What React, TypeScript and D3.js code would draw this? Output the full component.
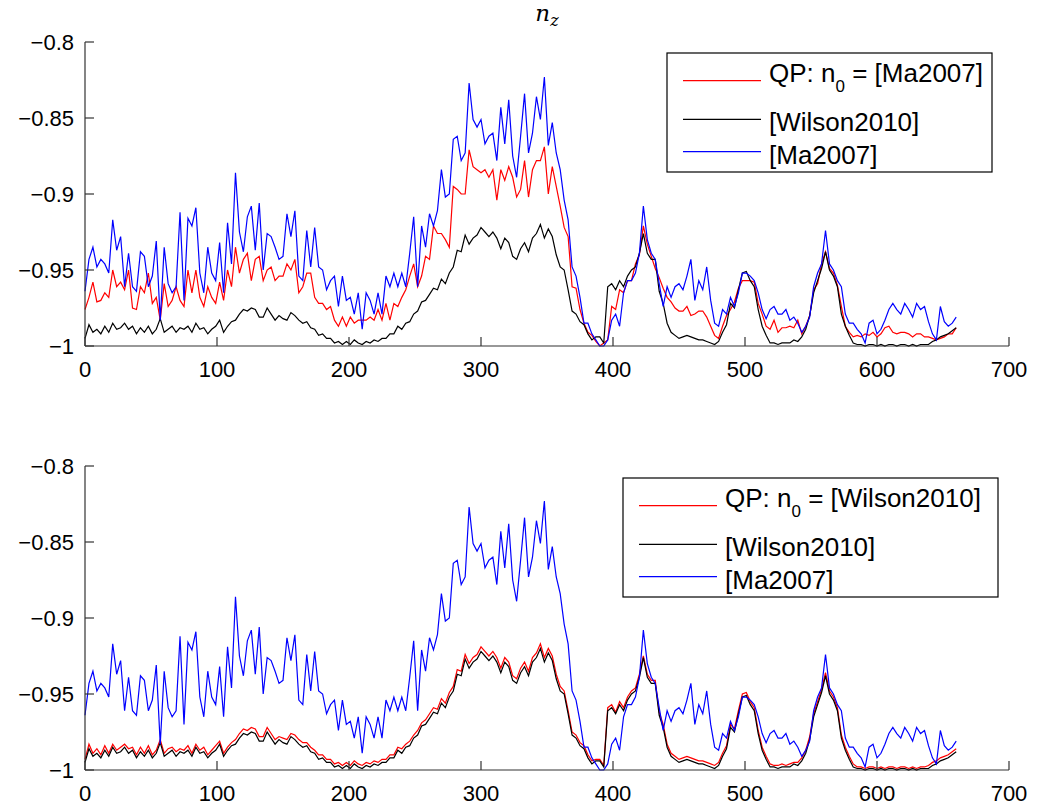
import React from 'react';
import * as d3 from 'd3';

// sample positions (frame index) at which the curves were read
const SAMPLE_X: number[] = d3.range(0, 661, 3);
const X_TICKS = [0, 100, 200, 300, 400, 500, 600, 700];
const Y_TICKS = [-1, -0.95, -0.9, -0.85, -0.8];

// [Ma2007]
const MA2007 = [
  -0.964, -0.943, -0.935, -0.948, -0.943, -0.946, -0.952, -0.917, -0.937, -0.928,
  -0.961, -0.939, -0.961, -0.964, -0.938, -0.941, -0.961, -0.954, -0.931, -0.983,
  -0.935, -0.959, -0.965, -0.961, -0.912, -0.970, -0.916, -0.921, -0.909, -0.952,
  -0.965, -0.935, -0.952, -0.957, -0.932, -0.965, -0.919, -0.946, -0.886, -0.925,
  -0.938, -0.915, -0.908, -0.937, -0.906,
  -0.950, -0.926, -0.928, -0.935, -0.943, -0.941, -0.913, -0.928, -0.911, -0.954,
  -0.957, -0.924, -0.948, -0.922, -0.948, -0.950, -0.963, -0.957, -0.954, -0.974,
  -0.954, -0.970, -0.968, -0.979, -0.965, -0.989, -0.965, -0.970, -0.979, -0.965,
  -0.979, -0.954, -0.961, -0.952, -0.961, -0.952, -0.961, -0.939, -0.915, -0.961,
  -0.921, -0.935,
  -0.913, -0.921, -0.911, -0.884, -0.902, -0.900, -0.864, -0.862, -0.878, -0.873,
  -0.827, -0.851, -0.856, -0.851, -0.867, -0.862, -0.860, -0.878, -0.843, -0.867,
  -0.838, -0.875, -0.889, -0.862, -0.834, -0.873, -0.860, -0.836, -0.851, -0.823,
  -0.868, -0.853, -0.873, -0.884, -0.904, -0.917, -0.948, -0.954, -0.968, -0.985,
  -0.985, -0.992, -0.996, -1.0,
  -1.0, -0.996, -0.983, -0.979, -0.987, -0.965, -0.957, -0.957, -0.952, -0.939,
  -0.908, -0.930, -0.939, -0.943, -0.959, -0.974, -0.961, -0.968, -0.961, -0.959,
  -0.963, -0.954, -0.943, -0.970, -0.957, -0.963, -0.948, -0.970, -0.985, -0.987,
  -0.976, -0.979, -0.968, -0.974, -0.965, -0.952, -0.952, -0.954, -0.957, -0.965,
  -0.976, -0.982,
  -0.976, -0.974, -0.979, -0.979, -0.976, -0.983, -0.981, -0.985, -0.991, -0.987,
  -0.981, -0.961, -0.952, -0.946, -0.924, -0.946, -0.950, -0.957, -0.961, -0.979,
  -0.985, -0.985, -0.989, -0.992, -0.998, -0.985, -0.983, -0.992, -0.989, -0.983,
  -0.976, -0.972, -0.976, -0.979, -0.972, -0.976, -0.981, -0.972, -0.976, -0.974,
  -0.984, -0.992, -0.996, -0.974, -0.984, -0.987, -0.985, -0.981,
];

// [Wilson2010]
const WILSON2010 = [
  -0.995, -0.986, -0.991, -0.989, -0.992, -0.987, -0.991, -0.985, -0.989, -0.988,
  -0.985, -0.989, -0.987, -0.992, -0.988, -0.991, -0.987, -0.992, -0.989, -0.982,
  -0.991, -0.989, -0.987, -0.991, -0.988, -0.989, -0.987, -0.991, -0.985, -0.989,
  -0.988, -0.992, -0.989, -0.987, -0.983, -0.991, -0.987, -0.984, -0.983, -0.979,
  -0.976, -0.977, -0.975, -0.976, -0.981,
  -0.981, -0.975, -0.979, -0.983, -0.980, -0.982, -0.983, -0.978, -0.980, -0.983,
  -0.985, -0.984, -0.988, -0.989, -0.993, -0.992, -0.995, -0.995, -0.998, -0.997,
  -0.999, -0.997, -0.999, -0.996, -0.998, -0.999, -0.997, -0.998, -0.996, -0.997,
  -0.995, -0.995, -0.992, -0.992, -0.987, -0.989, -0.985, -0.984, -0.979, -0.977,
  -0.971, -0.970,
  -0.966, -0.962, -0.963, -0.956, -0.959, -0.952, -0.948, -0.937, -0.938, -0.927,
  -0.933, -0.929, -0.927, -0.922, -0.925, -0.928, -0.925, -0.929, -0.936, -0.929,
  -0.932, -0.941, -0.943, -0.936, -0.932, -0.938, -0.929, -0.926, -0.920, -0.929,
  -0.923, -0.928, -0.940, -0.948, -0.950, -0.963, -0.977, -0.979, -0.984, -0.986,
  -0.992, -0.996, -0.994, -0.994,
  -0.998, -0.961, -0.959, -0.963, -0.957, -0.961, -0.954, -0.950, -0.948, -0.939,
  -0.926, -0.939, -0.943, -0.943, -0.964, -0.972, -0.985, -0.991, -0.993, -0.995,
  -0.994, -0.993, -0.994, -0.995, -0.996, -0.996, -0.997, -0.998, -0.999, -0.997,
  -0.991, -0.986, -0.972, -0.975, -0.963, -0.952, -0.951, -0.957, -0.961, -0.976,
  -0.987, -0.993,
  -0.998, -0.998, -0.999, -0.998, -0.998, -0.998, -0.996, -0.997, -0.994, -0.989,
  -0.980, -0.965, -0.957, -0.949, -0.938, -0.950, -0.954, -0.961, -0.979, -0.987,
  -0.993, -0.998, -0.999, -0.999, -1.0, -0.999, -0.999, -1.0, -0.999, -1.0,
  -0.999, -0.999, -1.0, -0.999, -0.999, -1.0, -0.999, -1.0, -0.999, -0.999,
  -0.999, -0.997, -0.996, -0.994, -0.993, -0.992, -0.990, -0.988,
];

// QP: n0 = [Ma2007]
const QP_MA2007 = [
  -0.976, -0.968, -0.958, -0.971, -0.970, -0.965, -0.968, -0.950, -0.961, -0.958,
  -0.963, -0.950, -0.975, -0.976, -0.961, -0.965, -0.952, -0.972, -0.968, -0.983,
  -0.959, -0.974, -0.970, -0.961, -0.970, -0.974, -0.950, -0.965, -0.950, -0.968,
  -0.974, -0.961, -0.968, -0.972, -0.958, -0.970, -0.950, -0.961, -0.935, -0.952,
  -0.943, -0.939, -0.957, -0.943, -0.941,
  -0.957, -0.950, -0.948, -0.957, -0.954, -0.954, -0.946, -0.950, -0.943, -0.965,
  -0.961, -0.952, -0.952, -0.968, -0.972, -0.972, -0.976, -0.974, -0.983, -0.987,
  -0.981, -0.987, -0.981, -0.985, -0.983, -0.983, -0.983, -0.981, -0.983, -0.976,
  -0.983, -0.972, -0.983, -0.972, -0.974, -0.968, -0.963, -0.954, -0.946, -0.961,
  -0.954, -0.941,
  -0.943, -0.921, -0.926, -0.926, -0.930, -0.935, -0.895, -0.897, -0.900, -0.900,
  -0.871, -0.882, -0.884, -0.886, -0.884, -0.889, -0.884, -0.904, -0.884, -0.891,
  -0.882, -0.889, -0.902, -0.897, -0.878, -0.902, -0.884, -0.878, -0.878, -0.869,
  -0.900, -0.882, -0.895, -0.908, -0.922, -0.928, -0.961, -0.962, -0.976, -0.985,
  -0.991, -0.993, -0.997, -1.0,
  -0.998, -0.996, -0.974, -0.976, -0.963, -0.965, -0.957, -0.957, -0.946, -0.940,
  -0.921, -0.933, -0.941, -0.949, -0.955, -0.962, -0.968, -0.971, -0.975, -0.977,
  -0.977, -0.974, -0.980, -0.979, -0.977, -0.977, -0.981, -0.987, -0.993, -0.995,
  -0.987, -0.980, -0.976, -0.971, -0.962, -0.957, -0.957, -0.957, -0.958, -0.972,
  -0.979, -0.987,
  -0.989, -0.983, -0.991, -0.988, -0.988, -0.987, -0.988, -0.983, -0.992, -0.987,
  -0.980, -0.963, -0.959, -0.946, -0.938, -0.949, -0.952, -0.960, -0.974, -0.987,
  -0.991, -0.994, -0.993, -0.994, -0.992, -0.993, -0.991, -0.994, -0.992, -0.988,
  -0.987, -0.991, -0.992, -0.991, -0.991, -0.992, -0.994, -0.992, -0.992, -0.994,
  -0.994, -0.995, -0.996, -0.995, -0.994, -0.992, -0.992, -0.988,
];

// QP: n0 = [Wilson2010]
const QP_WILSON2010 = [
  -0.993, -0.983, -0.989, -0.986, -0.990, -0.984, -0.989, -0.983, -0.987, -0.985,
  -0.983, -0.986, -0.985, -0.990, -0.985, -0.989, -0.984, -0.990, -0.987, -0.980,
  -0.989, -0.986, -0.985, -0.988, -0.986, -0.987, -0.984, -0.989, -0.983, -0.987,
  -0.985, -0.990, -0.987, -0.984, -0.981, -0.989, -0.985, -0.982, -0.980, -0.976,
  -0.973, -0.974, -0.972, -0.973, -0.978,
  -0.978, -0.972, -0.976, -0.980, -0.978, -0.979, -0.980, -0.976, -0.977, -0.980,
  -0.982, -0.982, -0.985, -0.987, -0.990, -0.990, -0.993, -0.993, -0.996, -0.995,
  -0.997, -0.995, -0.997, -0.994, -0.996, -0.997, -0.995, -0.996, -0.994, -0.995,
  -0.993, -0.993, -0.990, -0.990, -0.985, -0.986, -0.983, -0.981, -0.977, -0.974,
  -0.969, -0.967,
  -0.963, -0.959, -0.960, -0.953, -0.956, -0.949, -0.945, -0.934, -0.935, -0.924,
  -0.930, -0.926, -0.924, -0.919, -0.922, -0.925, -0.922, -0.926, -0.933, -0.926,
  -0.929, -0.938, -0.940, -0.933, -0.929, -0.935, -0.926, -0.923, -0.917, -0.926,
  -0.920, -0.925, -0.937, -0.945, -0.948, -0.961, -0.975, -0.977, -0.982, -0.984,
  -0.990, -0.994, -0.993, -0.993,
  -0.997, -0.959, -0.957, -0.962, -0.955, -0.959, -0.952, -0.948, -0.946, -0.937,
  -0.925, -0.937, -0.941, -0.941, -0.962, -0.970, -0.983, -0.989, -0.991, -0.993,
  -0.992, -0.991, -0.992, -0.993, -0.994, -0.994, -0.995, -0.996, -0.997, -0.995,
  -0.989, -0.984, -0.970, -0.973, -0.961, -0.950, -0.949, -0.955, -0.959, -0.974,
  -0.985, -0.991,
  -0.996, -0.997, -0.997, -0.996, -0.997, -0.996, -0.995, -0.995, -0.992, -0.987,
  -0.978, -0.963, -0.955, -0.947, -0.936, -0.948, -0.952, -0.959, -0.977, -0.985,
  -0.991, -0.996, -0.998, -0.998, -0.999, -0.998, -0.998, -0.999, -0.998, -0.999,
  -0.998, -0.998, -0.999, -0.998, -0.998, -0.999, -0.998, -0.999, -0.998, -0.998,
  -0.997, -0.995, -0.994, -0.992, -0.991, -0.990, -0.988, -0.986,
];

const W = 1041;
const H = 807;
const SANS = '"Liberation Sans", Arial, Helvetica, sans-serif';
const AXIS_COLOR = '#333333';

type PanelSpec = {
  top: number;
  bottom: number;
  qp: number[];
  qpRef: string;
  legend: { x: number; y: number; w: number; h: number };
};

const PANELS: PanelSpec[] = [
  { top: 42, bottom: 346, qp: QP_MA2007, qpRef: '[Ma2007]', legend: { x: 667, y: 53, w: 325, h: 119 } },
  { top: 466, bottom: 770, qp: QP_WILSON2010, qpRef: '[Wilson2010]', legend: { x: 623, y: 478, w: 375, h: 119 } },
];

const xScale = d3.scaleLinear().domain([0, 700]).range([85, 1009]);

function fmtY(v: number) {
  return '\u2212' + String(Math.abs(v));
}

function Panel({ spec }: { spec: PanelSpec }) {
  const y = d3.scaleLinear().domain([-1, -0.8]).range([spec.bottom, spec.top]);
  const line = d3
    .line<number>()
    .x((_, i) => xScale(SAMPLE_X[i]))
    .y((d) => y(d));
  const tickLen = 9;
  const [x0, x1] = xScale.range();
  const lg = spec.legend;
  const ly = [lg.y + 27.7, lg.y + 66.3, lg.y + 98.7];
  const lx0 = lg.x + 16;
  const lx1 = lg.x + 94;
  const tx = lg.x + 102;
  return (
    <g>
      {/* data */}
      <path d={line(spec.qp) || ''} fill="none" stroke="#ff0000" strokeWidth={1.2} />
      <path d={line(WILSON2010) || ''} fill="none" stroke="#000000" strokeWidth={1.2} />
      <path d={line(MA2007) || ''} fill="none" stroke="#0000ff" strokeWidth={1.2} />
      {/* axes */}
      <line x1={x0} x2={x0} y1={spec.top} y2={spec.bottom} stroke={AXIS_COLOR} strokeWidth={1.2} />
      <line x1={x0} x2={x1} y1={spec.bottom} y2={spec.bottom} stroke={AXIS_COLOR} strokeWidth={1.2} />
      {Y_TICKS.map((t) => (
        <g key={'y' + t}>
          <line x1={x0} x2={x0 + tickLen} y1={y(t)} y2={y(t)} stroke={AXIS_COLOR} strokeWidth={1.2} />
          <text x={x0 - 11} y={y(t) + 8} textAnchor="end" fontFamily={SANS} fontSize={22} fill="#000">
            {fmtY(t)}
          </text>
        </g>
      ))}
      {X_TICKS.map((t) => (
        <g key={'x' + t}>
          <line x1={xScale(t)} x2={xScale(t)} y1={spec.bottom} y2={spec.bottom - tickLen} stroke={AXIS_COLOR} strokeWidth={1.2} />
          <text x={xScale(t)} y={spec.bottom + 31} textAnchor="middle" fontFamily={SANS} fontSize={22} fill="#000">
            {String(t)}
          </text>
        </g>
      ))}
      {/* legend */}
      <rect x={lg.x} y={lg.y} width={lg.w} height={lg.h} fill="#ffffff" stroke="#000" strokeWidth={1.2} />
      <line x1={lx0} x2={lx1} y1={ly[0]} y2={ly[0]} stroke="#ff0000" strokeWidth={1.2} />
      <line x1={lx0} x2={lx1} y1={ly[1]} y2={ly[1]} stroke="#000000" strokeWidth={1.2} />
      <line x1={lx0} x2={lx1} y1={ly[2]} y2={ly[2]} stroke="#0000ff" strokeWidth={1.2} />
      <text x={tx} y={ly[0] + 1.5} fontFamily={SANS} fontSize={26} fill="#000">
        QP: n
        <tspan fontSize={17} dy={10}>0</tspan>
        <tspan dy={-10}>{' = ' + spec.qpRef}</tspan>
      </text>
      <text x={tx} y={ly[1] + 12} fontFamily={SANS} fontSize={26} fill="#000">
        [Wilson2010]
      </text>
      <text x={tx} y={ly[2] + 12} fontFamily={SANS} fontSize={26} fill="#000">
        [Ma2007]
      </text>
    </g>
  );
}

export default function App() {
  return (
    <svg
      width={W}
      height={H}
      viewBox={`0 0 ${W} ${H}`}
      style={{ position: 'absolute', left: 0, top: 0, background: '#ffffff', display: 'block' }}
    >
      <rect x={0} y={0} width={W} height={H} fill="#ffffff" />
      <text x={547} y={21} textAnchor="middle" fontFamily='"DejaVu Serif", "Liberation Serif", serif' fontStyle="italic" fontSize={23} fill="#000">
        n<tspan fontSize={16} dy={5}>z</tspan>
      </text>
      {PANELS.map((p, i) => (
        <Panel key={i} spec={p} />
      ))}
    </svg>
  );
}
